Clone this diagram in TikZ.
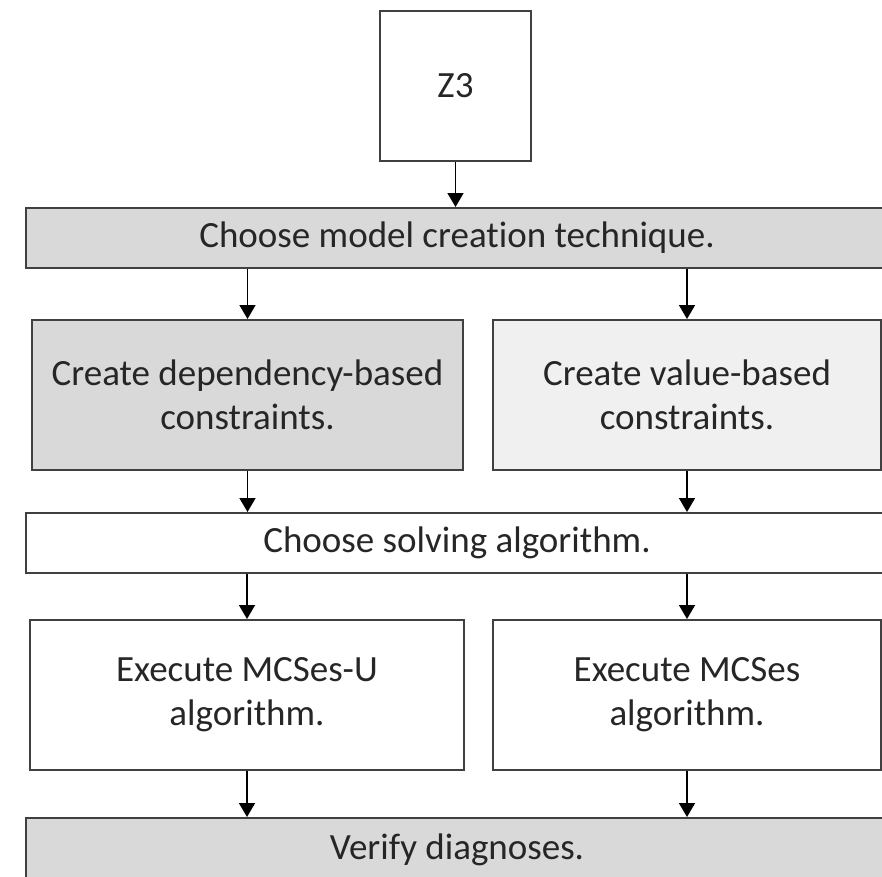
\documentclass[tikz,border=0pt]{standalone}
\usepackage{fontspec}
\setmainfont{Carlito}[RawFeature={-liga;-clig;-calt;-dlig}]
\usetikzlibrary{arrows.meta}
\definecolor{boxgray}{HTML}{D9D9D9}
\definecolor{boxlight}{HTML}{F0F0F0}
\definecolor{edgegray}{HTML}{404040}
\tikzset{
	stepbox/.style={draw=edgegray, line width=2pt, inner sep=0pt,
		align=center, text=black!85, font=\fontsize{37}{44}\selectfont},
	flow/.style={-{Triangle[width=16pt,length=14pt]}, line width=1.6pt}
}

\begin{document}
\begin{tikzpicture}[x=1pt, y=-1pt]
\useasboundingbox (0,0) rectangle (882,876);
\clip (0,0) rectangle (882,876);
\node[stepbox, fill=white, minimum width=151pt, minimum height=150pt] (z3) at (455.5,86) {Z3};
\node[stepbox, fill=boxgray, minimum width=862pt, minimum height=60pt] (model) at (457,238) {Choose model creation technique.};
\node[stepbox, fill=boxgray, minimum width=431pt, minimum height=150pt] (dep) at (247.5,395) {Create dependency-based\\constraints.};
\node[stepbox, fill=boxlight, minimum width=388pt, minimum height=150pt] (val) at (687,395) {Create value-based\\constraints.};
\node[stepbox, fill=white, minimum width=862pt, minimum height=60pt] (solve) at (457,543) {Choose solving algorithm.};
\node[stepbox, fill=white, minimum width=434pt, minimum height=150pt] (mcsu) at (247,695) {Execute MCSes-U\\algorithm.};
\node[stepbox, fill=white, minimum width=388pt, minimum height=150pt] (mcs) at (687,695) {Execute MCSes\\algorithm.};
\node[stepbox, fill=boxgray, minimum width=862pt, minimum height=64pt] (verify) at (457,850) {Verify diagnoses.};

% arrows between the steps
\draw[flow] (z3.south) -- (z3.south |- model.north);
\draw[flow] (dep.north |- model.south) -- (dep.north);
\draw[flow] (val.north |- model.south) -- (val.north);
\draw[flow] (dep.south) -- (dep.south |- solve.north);
\draw[flow] (val.south) -- (val.south |- solve.north);
\draw[flow] (mcsu.north |- solve.south) -- (mcsu.north);
\draw[flow] (mcs.north |- solve.south) -- (mcs.north);
\draw[flow] (mcsu.south) -- (mcsu.south |- verify.north);
\draw[flow] (mcs.south) -- (mcs.south |- verify.north);
\end{tikzpicture}
\end{document}
